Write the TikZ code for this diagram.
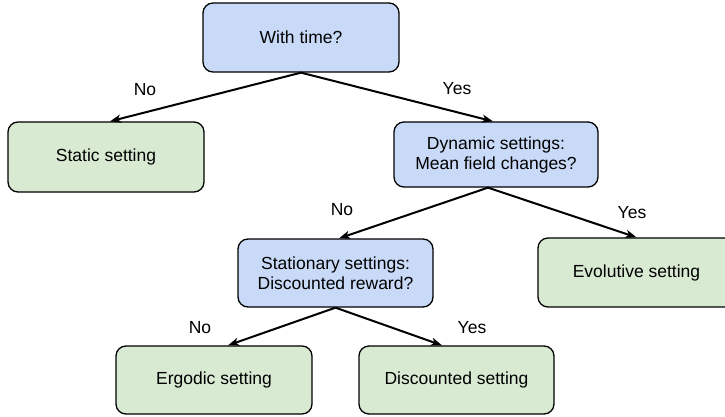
\documentclass[tikz,border=0pt]{standalone}
\usepackage{fontspec}
\setmainfont{Liberation Sans}
\usetikzlibrary{arrows.meta}
\definecolor{qblue}{HTML}{C9DAF8}
\definecolor{qgreen}{HTML}{D9EAD3}
\tikzset{
  box/.style={draw=black, line width=1.3pt, rounded corners=10pt, inner sep=0pt,
    align=center, font=\fontsize{17.5}{20}\selectfont},
  qbox/.style={box, fill=qblue},
  abox/.style={box, fill=qgreen},
  lbl/.style={font=\fontsize{17.5}{20}\selectfont, inner sep=0pt},
  arr/.style={draw=black, line width=2pt, -{Stealth[length=11pt,width=8pt,inset=3pt]}}
}
\begin{document}
\begin{tikzpicture}[x=1pt,y=-1pt]
\clip (0,0) rectangle (725,417);
\fill[white] (0,0) rectangle (725,417);
\node[qbox, minimum width=196pt, minimum height=69pt] (time) at (301,37.5) {With time?};
\node[abox, minimum width=196pt, minimum height=70pt] (static) at (106,157) {Static setting};
\node[qbox, minimum width=204pt, minimum height=65pt] (dyn) at (496,154.5) {Dynamic settings:\\Mean field changes?};
\node[qbox, minimum width=195pt, minimum height=68pt] (stat) at (335.5,273) {Stationary settings:\\Discounted reward?};
\node[abox, minimum width=197pt, minimum height=69pt] (evol) at (636.5,272.5) {Evolutive setting};
\node[abox, minimum width=196pt, minimum height=68pt] (erg) at (214,380) {Ergodic setting};
\node[abox, minimum width=195pt, minimum height=68pt] (disc) at (456.5,380) {Discounted setting};

\draw[arr] (time.south) -- ([xshift=4pt]static.north);
\draw[arr] (time.south) -- ([xshift=-3pt]dyn.north);
\draw[arr] ([xshift=-8pt]dyn.south) -- ([xshift=3.5pt]stat.north);
\draw[arr] ([xshift=-8pt]dyn.south) -- (evol.north);
\draw[arr] (stat.south) -- ([xshift=14pt]erg.north);
\draw[arr] (stat.south) -- ([xshift=-14.5pt]disc.north);

\node[lbl] (l1) at (145,90) {No};
\node[lbl] (l2) at (457,89) {Yes};
\node[lbl] (l3) at (342,210) {No};
\node[lbl] (l4) at (632,213) {Yes};
\node[lbl] (l5) at (200,328) {No};
\node[lbl] (l6) at (472,328) {Yes};
\end{tikzpicture}
\end{document}
